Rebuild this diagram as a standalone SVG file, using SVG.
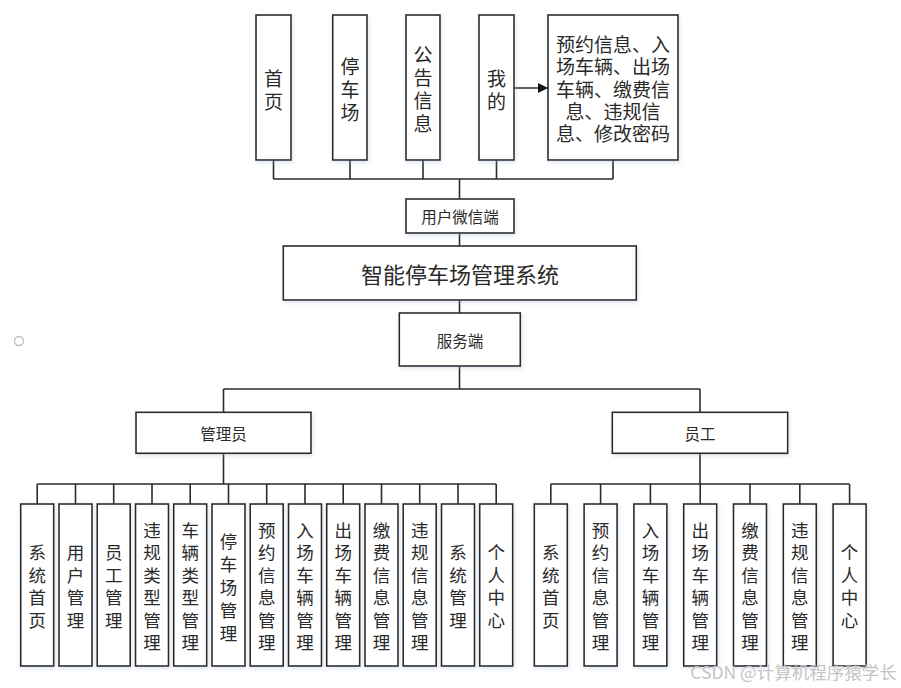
<svg xmlns="http://www.w3.org/2000/svg" width="901" height="688" viewBox="0 0 901 688">
<defs>
<filter id="sh" x="-10%" y="-10%" width="130%" height="130%">
<feDropShadow dx="1" dy="2" stdDeviation="2" flood-color="#9fb3d1" flood-opacity="0.35"/>
</filter>
<marker id="arr" viewBox="0 0 10 10" refX="10" refY="5" markerWidth="10" markerHeight="10" markerUnits="userSpaceOnUse" orient="auto">
<path d="M0,0 L10,5 L0,10 z" fill="#111"/>
</marker>
</defs>
<style>
rect.b{fill:#fff;stroke:#2b2b2b;stroke-width:1.6;filter:url(#sh)}
text{font-family:"Noto Sans CJK SC","Noto Sans CJK JP",sans-serif;fill:#2a2a2a;text-anchor:middle;dominant-baseline:central}
.t19{font-size:19px}
.t18{font-size:17.5px}
.t16{font-size:15.5px}
.t22{font-size:22px}
.c path,.c line,.c polyline{fill:none;stroke:#2b2b2b;stroke-width:1.6}
</style>
<rect width="901" height="688" fill="#fff"/>
<circle cx="19" cy="341" r="4.5" fill="none" stroke="#bdbdbd" stroke-width="1.3"/>

<g class="c" id="connectors">
<path d="M273.5,160V179M350,160V179M423,160V179M496.5,160V179M613,160V179M273.5,179H613M459.5,179V199"/>
<path d="M459.5,233V246M459.5,300V313"/>
<path d="M459.5,366V389M223.5,389H700M223.5,389V412M700,389V412"/>
<path d="M223.5,453V484M37.2,484H496.2"/>
<path d="M37.2,484V504M75.5,484V504M113.7,484V504M152,484V504M190.2,484V504M228.5,484V504M266.7,484V504M305,484V504M343.2,484V504M381.5,484V504M419.7,484V504M458,484V504M496.2,484V504"/>
<path d="M700,453V484M550.8,484H849.6"/>
<path d="M550.8,484V504M600.6,484V504M650.4,484V504M700.2,484V504M750,484V504M799.8,484V504M849.6,484V504"/>
<line x1="514" y1="88" x2="548" y2="88" marker-end="url(#arr)"/>
</g>

<g id="top-home"><rect class="b" x="256" y="15" width="35" height="145"/>
<text class="t19" x="273.5"><tspan x="273.5" y="76.5">首</tspan><tspan x="273.5" y="99.5">页</tspan></text></g>
<g id="top-park"><rect class="b" x="332.7" y="15" width="34.3" height="145"/>
<text class="t19" x="350"><tspan x="350" y="64.5">停</tspan><tspan x="350" y="87.5">车</tspan><tspan x="350" y="110.5">场</tspan></text></g>
<g id="top-notice"><rect class="b" x="406" y="15" width="34" height="145"/>
<text class="t19" x="423"><tspan x="423" y="53">公</tspan><tspan x="423" y="76">告</tspan><tspan x="423" y="99">信</tspan><tspan x="423" y="122">息</tspan></text></g>
<g id="top-mine"><rect class="b" x="479" y="15" width="35" height="145"/>
<text class="t19" x="496.5"><tspan x="496.5" y="76.5">我</tspan><tspan x="496.5" y="99.5">的</tspan></text></g>
<g id="top-detail"><rect class="b" x="548" y="15" width="130" height="145"/>
<text class="t19" x="613"><tspan x="613" y="43">预约信息、入</tspan><tspan x="613" y="65.3">场车辆、出场</tspan><tspan x="613" y="87.5">车辆、缴费信</tspan><tspan x="613" y="109.8">息、违规信</tspan><tspan x="613" y="132">息、修改密码</tspan></text></g>

<g id="wechat"><rect class="b" x="406" y="199" width="108" height="34"/>
<text class="t16" x="460" y="216">用户微信端</text></g>
<g id="system"><rect class="b" x="283.3" y="246" width="353" height="54"/>
<text class="t22" x="460" y="273">智能停车场管理系统</text></g>
<g id="server"><rect class="b" x="399.3" y="313" width="121" height="53"/>
<text class="t16" x="460" y="339.5">服务端</text></g>
<g id="admin"><rect class="b" x="136" y="412.3" width="175" height="41"/>
<text class="t16" x="223.5" y="433">管理员</text></g>
<g id="staff"><rect class="b" x="612.3" y="412.3" width="175.4" height="41"/>
<text class="t16" x="700" y="433">员工</text></g>

<g id="a0"><rect class="b" x="20.7" y="504" width="33" height="162"/><text class="t18"><tspan x="37.2" y="551">系</tspan><tspan x="37.2" y="573.5">统</tspan><tspan x="37.2" y="596">首</tspan><tspan x="37.2" y="618.5">页</tspan></text></g>
<g id="a1"><rect class="b" x="59" y="504" width="33" height="162"/><text class="t18"><tspan x="75.5" y="551">用</tspan><tspan x="75.5" y="573.5">户</tspan><tspan x="75.5" y="596">管</tspan><tspan x="75.5" y="618.5">理</tspan></text></g>
<g id="a2"><rect class="b" x="97.2" y="504" width="33" height="162"/><text class="t18"><tspan x="113.7" y="551">员</tspan><tspan x="113.7" y="573.5">工</tspan><tspan x="113.7" y="596">管</tspan><tspan x="113.7" y="618.5">理</tspan></text></g>
<g id="a3"><rect class="b" x="135.5" y="504" width="33" height="162"/><text class="t18"><tspan x="152" y="528.5">违</tspan><tspan x="152" y="551">规</tspan><tspan x="152" y="573.5">类</tspan><tspan x="152" y="596">型</tspan><tspan x="152" y="618.5">管</tspan><tspan x="152" y="641">理</tspan></text></g>
<g id="a4"><rect class="b" x="173.7" y="504" width="33" height="162"/><text class="t18"><tspan x="190.2" y="528.5">车</tspan><tspan x="190.2" y="551">辆</tspan><tspan x="190.2" y="573.5">类</tspan><tspan x="190.2" y="596">型</tspan><tspan x="190.2" y="618.5">管</tspan><tspan x="190.2" y="641">理</tspan></text></g>
<g id="a5"><rect class="b" x="212" y="504" width="33" height="162"/><text class="t18"><tspan x="228.5" y="539.5">停</tspan><tspan x="228.5" y="562.5">车</tspan><tspan x="228.5" y="585.5">场</tspan><tspan x="228.5" y="608.5">管</tspan><tspan x="228.5" y="631.5">理</tspan></text></g>
<g id="a6"><rect class="b" x="250.2" y="504" width="33" height="162"/><text class="t18"><tspan x="266.7" y="528.5">预</tspan><tspan x="266.7" y="551">约</tspan><tspan x="266.7" y="573.5">信</tspan><tspan x="266.7" y="596">息</tspan><tspan x="266.7" y="618.5">管</tspan><tspan x="266.7" y="641">理</tspan></text></g>
<g id="a7"><rect class="b" x="288.5" y="504" width="33" height="162"/><text class="t18"><tspan x="305" y="528.5">入</tspan><tspan x="305" y="551">场</tspan><tspan x="305" y="573.5">车</tspan><tspan x="305" y="596">辆</tspan><tspan x="305" y="618.5">管</tspan><tspan x="305" y="641">理</tspan></text></g>
<g id="a8"><rect class="b" x="326.7" y="504" width="33" height="162"/><text class="t18"><tspan x="343.2" y="528.5">出</tspan><tspan x="343.2" y="551">场</tspan><tspan x="343.2" y="573.5">车</tspan><tspan x="343.2" y="596">辆</tspan><tspan x="343.2" y="618.5">管</tspan><tspan x="343.2" y="641">理</tspan></text></g>
<g id="a9"><rect class="b" x="365" y="504" width="33" height="162"/><text class="t18"><tspan x="381.5" y="528.5">缴</tspan><tspan x="381.5" y="551">费</tspan><tspan x="381.5" y="573.5">信</tspan><tspan x="381.5" y="596">息</tspan><tspan x="381.5" y="618.5">管</tspan><tspan x="381.5" y="641">理</tspan></text></g>
<g id="a10"><rect class="b" x="403.2" y="504" width="33" height="162"/><text class="t18"><tspan x="419.7" y="528.5">违</tspan><tspan x="419.7" y="551">规</tspan><tspan x="419.7" y="573.5">信</tspan><tspan x="419.7" y="596">息</tspan><tspan x="419.7" y="618.5">管</tspan><tspan x="419.7" y="641">理</tspan></text></g>
<g id="a11"><rect class="b" x="441.5" y="504" width="33" height="162"/><text class="t18"><tspan x="458" y="551">系</tspan><tspan x="458" y="573.5">统</tspan><tspan x="458" y="596">管</tspan><tspan x="458" y="618.5">理</tspan></text></g>
<g id="a12"><rect class="b" x="479.7" y="504" width="33" height="162"/><text class="t18"><tspan x="496.2" y="551">个</tspan><tspan x="496.2" y="573.5">人</tspan><tspan x="496.2" y="596">中</tspan><tspan x="496.2" y="618.5">心</tspan></text></g>

<g id="s0"><rect class="b" x="534.3" y="504" width="33" height="162"/><text class="t18"><tspan x="550.8" y="551">系</tspan><tspan x="550.8" y="573.5">统</tspan><tspan x="550.8" y="596">首</tspan><tspan x="550.8" y="618.5">页</tspan></text></g>
<g id="s1"><rect class="b" x="584.1" y="504" width="33" height="162"/><text class="t18"><tspan x="600.6" y="528.5">预</tspan><tspan x="600.6" y="551">约</tspan><tspan x="600.6" y="573.5">信</tspan><tspan x="600.6" y="596">息</tspan><tspan x="600.6" y="618.5">管</tspan><tspan x="600.6" y="641">理</tspan></text></g>
<g id="s2"><rect class="b" x="633.9" y="504" width="33" height="162"/><text class="t18"><tspan x="650.4" y="528.5">入</tspan><tspan x="650.4" y="551">场</tspan><tspan x="650.4" y="573.5">车</tspan><tspan x="650.4" y="596">辆</tspan><tspan x="650.4" y="618.5">管</tspan><tspan x="650.4" y="641">理</tspan></text></g>
<g id="s3"><rect class="b" x="683.7" y="504" width="33" height="162"/><text class="t18"><tspan x="700.2" y="528.5">出</tspan><tspan x="700.2" y="551">场</tspan><tspan x="700.2" y="573.5">车</tspan><tspan x="700.2" y="596">辆</tspan><tspan x="700.2" y="618.5">管</tspan><tspan x="700.2" y="641">理</tspan></text></g>
<g id="s4"><rect class="b" x="733.5" y="504" width="33" height="162"/><text class="t18"><tspan x="750" y="528.5">缴</tspan><tspan x="750" y="551">费</tspan><tspan x="750" y="573.5">信</tspan><tspan x="750" y="596">息</tspan><tspan x="750" y="618.5">管</tspan><tspan x="750" y="641">理</tspan></text></g>
<g id="s5"><rect class="b" x="783.3" y="504" width="33" height="162"/><text class="t18"><tspan x="799.8" y="528.5">违</tspan><tspan x="799.8" y="551">规</tspan><tspan x="799.8" y="573.5">信</tspan><tspan x="799.8" y="596">息</tspan><tspan x="799.8" y="618.5">管</tspan><tspan x="799.8" y="641">理</tspan></text></g>
<g id="s6"><rect class="b" x="833.1" y="504" width="33" height="162"/><text class="t18"><tspan x="849.6" y="551">个</tspan><tspan x="849.6" y="573.5">人</tspan><tspan x="849.6" y="596">中</tspan><tspan x="849.6" y="618.5">心</tspan></text></g>

<text x="793.5" y="671" style="font-size:17.5px;fill:#c4c4c4">CSDN @计算机程序猿学长</text>
</svg>
